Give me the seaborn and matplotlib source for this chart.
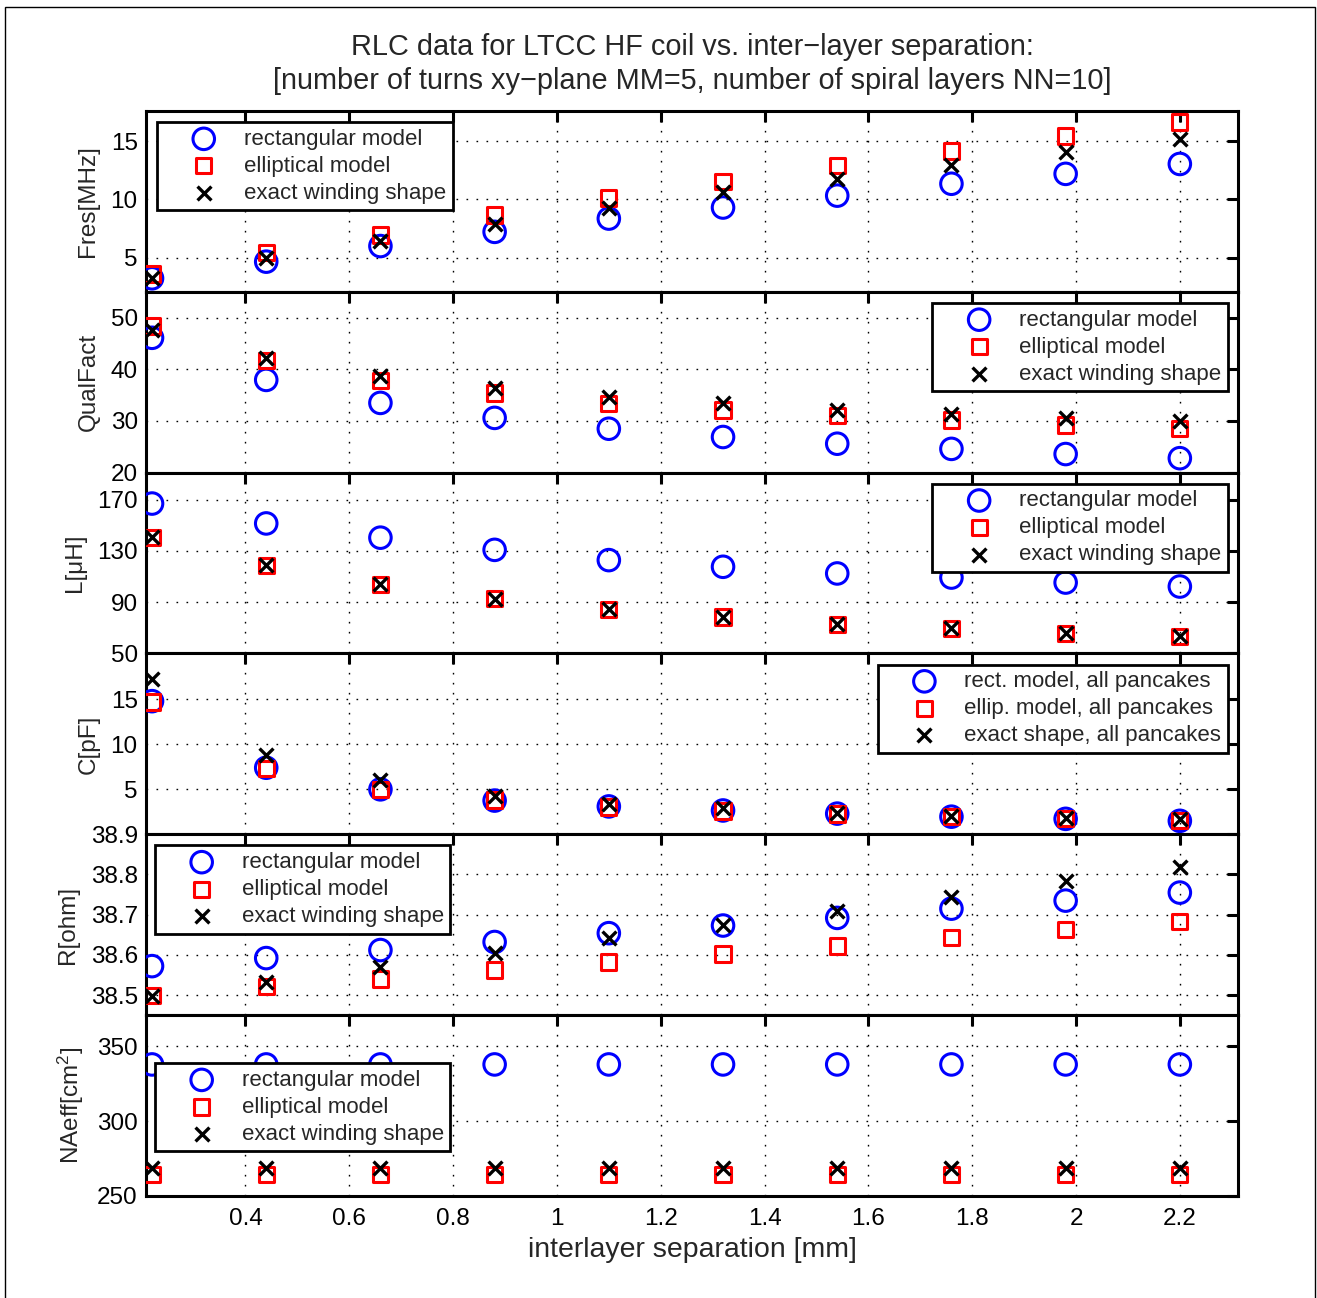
import numpy as np
import matplotlib
matplotlib.use("Agg")
import matplotlib.pyplot as plt
from matplotlib.patches import Rectangle
from matplotlib.collections import PathCollection
from matplotlib.legend_handler import HandlerPathCollection
import seaborn as sns

# interlayer separation [mm]
sep = [0.22, 0.44, 0.66, 0.88, 1.10, 1.32, 1.54, 1.76, 1.98, 2.20]

# resonance frequency [MHz]
fres_rect = [3.23, 4.66, 6.00, 7.22, 8.36, 9.31, 10.33, 11.35, 12.20, 13.05]
fres_ellip = [3.60, 5.43, 6.94, 8.67, 10.12, 11.53, 12.90, 14.17, 15.45, 16.65]
fres_exact = [3.23, 4.95, 6.43, 7.93, 9.31, 10.63, 11.78, 13.00, 14.10, 15.23]

# quality factor
q_rect = [46.1, 37.95, 33.5, 30.6, 28.5, 26.9, 25.6, 24.6, 23.6, 22.8]
q_ellip = [48.4, 41.7, 37.8, 35.4, 33.4, 32.1, 31.0, 30.2, 29.2, 28.6]
q_exact = [47.7, 42.2, 38.7, 36.3, 34.7, 33.4, 32.2, 31.4, 30.6, 30.0]

# inductance [uH]
l_rect = [166.9, 151.4, 140.3, 130.8, 122.8, 117.6, 112.4, 109.2, 105.3, 102.2]
l_ellip = [140.3, 118.4, 103.7, 92.6, 84.4, 78.5, 72.8, 69.5, 65.6, 63.2]
l_exact = [140.5, 118.6, 103.9, 92.8, 84.6, 78.7, 73.0, 69.6, 65.7, 63.3]

# capacitance [pF]
c_rect = [14.8, 7.4, 5.0, 3.75, 3.1, 2.65, 2.3, 1.96, 1.72, 1.50]
c_ellip = [14.7, 7.35, 4.95, 3.8, 3.05, 2.6, 2.25, 1.95, 1.75, 1.55]
c_exact = [17.3, 8.8, 6.0, 4.3, 3.4, 2.9, 2.4, 2.07, 1.78, 1.67]

# resistance [ohm]
r_rect = [38.572, 38.592, 38.612, 38.632, 38.654, 38.673, 38.692, 38.715, 38.735, 38.755]
r_ellip = [38.498, 38.521, 38.540, 38.562, 38.582, 38.602, 38.622, 38.643, 38.663, 38.683]
r_exact = [38.498, 38.533, 38.569, 38.604, 38.642, 38.675, 38.710, 38.745, 38.783, 38.818]

# effective area [cm^2]
na_rect = [337.8, 337.8, 337.8, 337.8, 337.8, 337.8, 337.8, 337.8, 337.8, 337.8]
na_ellip = [264.5, 264.5, 264.5, 264.5, 264.5, 264.5, 264.5, 264.5, 264.5, 264.5]
na_exact = [268.5, 268.5, 268.5, 268.5, 268.5, 268.5, 268.5, 268.5, 268.5, 268.5]

labels_std = ["rectangular model", "elliptical model", "exact winding shape"]
labels_c = ["rect. model, all pancakes", "ellip. model, all pancakes",
            "exact shape, all pancakes"]

x_ticks = [0.4, 0.6, 0.8, 1.0, 1.2, 1.4, 1.6, 1.8, 2.0, 2.2]
x_ticklabels = ["0.4", "0.6", "0.8", "1", "1.2", "1.4", "1.6", "1.8", "2", "2.2"]

sns.set_style("white")
plt.rcParams["font.family"] = ["Liberation Sans", "DejaVu Sans"]
plt.rcParams["mathtext.fontset"] = "custom"
plt.rcParams["mathtext.rm"] = "Liberation Sans"
plt.rcParams["mathtext.it"] = "Liberation Sans"

fig, axes = plt.subplots(6, 1, sharex=True, figsize=(13.17, 12.98), dpi=100)
fig.subplots_adjust(left=0.1109, right=0.940, top=0.9145, bottom=0.0786, hspace=0)

panels = [
    dict(r=fres_rect, e=fres_ellip, x=fres_exact, ylabel="Fres[MHz]",
         ylim=(2.07, 17.6), yticks=[5, 10, 15], yticklabels=["5", "10", "15"],
         labels=labels_std, loc="upper left", anchor=(0.0101, 0.939)),
    dict(r=q_rect, e=q_ellip, x=q_exact, ylabel="QualFact",
         ylim=(20, 55), yticks=[20, 30, 40, 50], yticklabels=["20", "30", "40", "50"],
         labels=labels_std, loc="upper right", anchor=(0.9908, 0.939)),
    dict(r=l_rect, e=l_ellip, x=l_exact, ylabel="L[\u03bcH]",
         ylim=(50, 191), yticks=[50, 90, 130, 170], yticklabels=["50", "90", "130", "170"],
         labels=labels_std, loc="upper right", anchor=(0.9908, 0.939)),
    dict(r=c_rect, e=c_ellip, x=c_exact, ylabel="C[pF]",
         ylim=(0, 20.1), yticks=[5, 10, 15], yticklabels=["5", "10", "15"],
         labels=labels_c, loc="upper right", anchor=(0.9908, 0.939)),
    dict(r=r_rect, e=r_ellip, x=r_exact, ylabel="R[ohm]",
         ylim=(38.45, 38.9), yticks=[38.5, 38.6, 38.7, 38.8, 38.9],
         yticklabels=["38.5", "38.6", "38.7", "38.8", "38.9"],
         labels=labels_std, loc="upper left", anchor=(0.0082, 0.939)),
    dict(r=na_rect, e=na_ellip, x=na_exact, ylabel="NAeff[cm$^{2}$]",
         ylim=(250, 370.7), yticks=[250, 300, 350], yticklabels=["250", "300", "350"],
         labels=labels_std, loc="upper left", anchor=(0.0082, 0.735)),
]

grid_ls = (0, (1.2, 6.0))
# shift the legend symbols a little to the right inside their handle box
legend_handler = {PathCollection: HandlerPathCollection(xpad=0.7)}

for ax, p in zip(axes, panels):
    ax.set_axisbelow(True)
    ax.grid(True, color="black", linestyle=grid_ls, linewidth=1.0)
    sns.scatterplot(x=sep, y=p["r"], ax=ax, marker="o", s=240, facecolor="none",
                    edgecolor=(0, 0, 1), linewidth=2.2, label=p["labels"][0],
                    legend=False, zorder=3)
    sns.scatterplot(x=sep, y=p["e"], ax=ax, marker="s", s=121, facecolor="none",
                    edgecolor=(1, 0, 0), linewidth=2.2, label=p["labels"][1],
                    legend=False, zorder=4)
    sns.scatterplot(x=sep, y=p["x"], ax=ax, marker="x", s=100, color="black",
                    linewidth=2.4, label=p["labels"][2], legend=False, zorder=5)
    ax.set_xlim(0.2085, 2.312)
    ax.set_ylim(*p["ylim"])
    ax.set_yticks(p["yticks"])
    ax.set_yticklabels(p["yticklabels"])
    ax.set_xticks(x_ticks)
    ax.set_ylabel(p["ylabel"], fontsize=17.5, labelpad=8)
    ax.tick_params(direction="in", length=8, width=2.2, top=True, right=True,
                   labelsize=17.5, pad=6, colors="black")
    ax.tick_params(axis="x", pad=9)
    for sp in ax.spines.values():
        sp.set_linewidth(2.2)
        sp.set_color("black")
    ax.set_facecolor("white")
    leg = ax.legend(loc=p["loc"], bbox_to_anchor=p["anchor"], borderaxespad=0,
                    fontsize=16, frameon=True, fancybox=False, framealpha=1,
                    edgecolor="black", borderpad=0.3, labelspacing=0.27,
                    handlelength=2.9, handletextpad=0.7, scatterpoints=1,
                    handler_map=legend_handler)
    leg.get_frame().set_linewidth(2.0)
    leg.set_zorder(10)

axes[-1].set_xticklabels(x_ticklabels)
axes[-1].set_xlabel("interlayer separation [mm]", fontsize=20.5, labelpad=5)
axes[0].set_title("RLC data for LTCC HF coil vs. inter\u2212layer separation:\n"
                  "[number of turns xy\u2212plane MM=5, number of spiral layers NN=10]",
                  fontsize=20.8, pad=16, linespacing=1.25)

fig.patches.append(Rectangle((0.0038, -0.01), 0.9947, 1.0046, transform=fig.transFigure,
                             fill=False, edgecolor="black", linewidth=1.0))

fig.savefig("out.png", dpi=100, facecolor="white")
